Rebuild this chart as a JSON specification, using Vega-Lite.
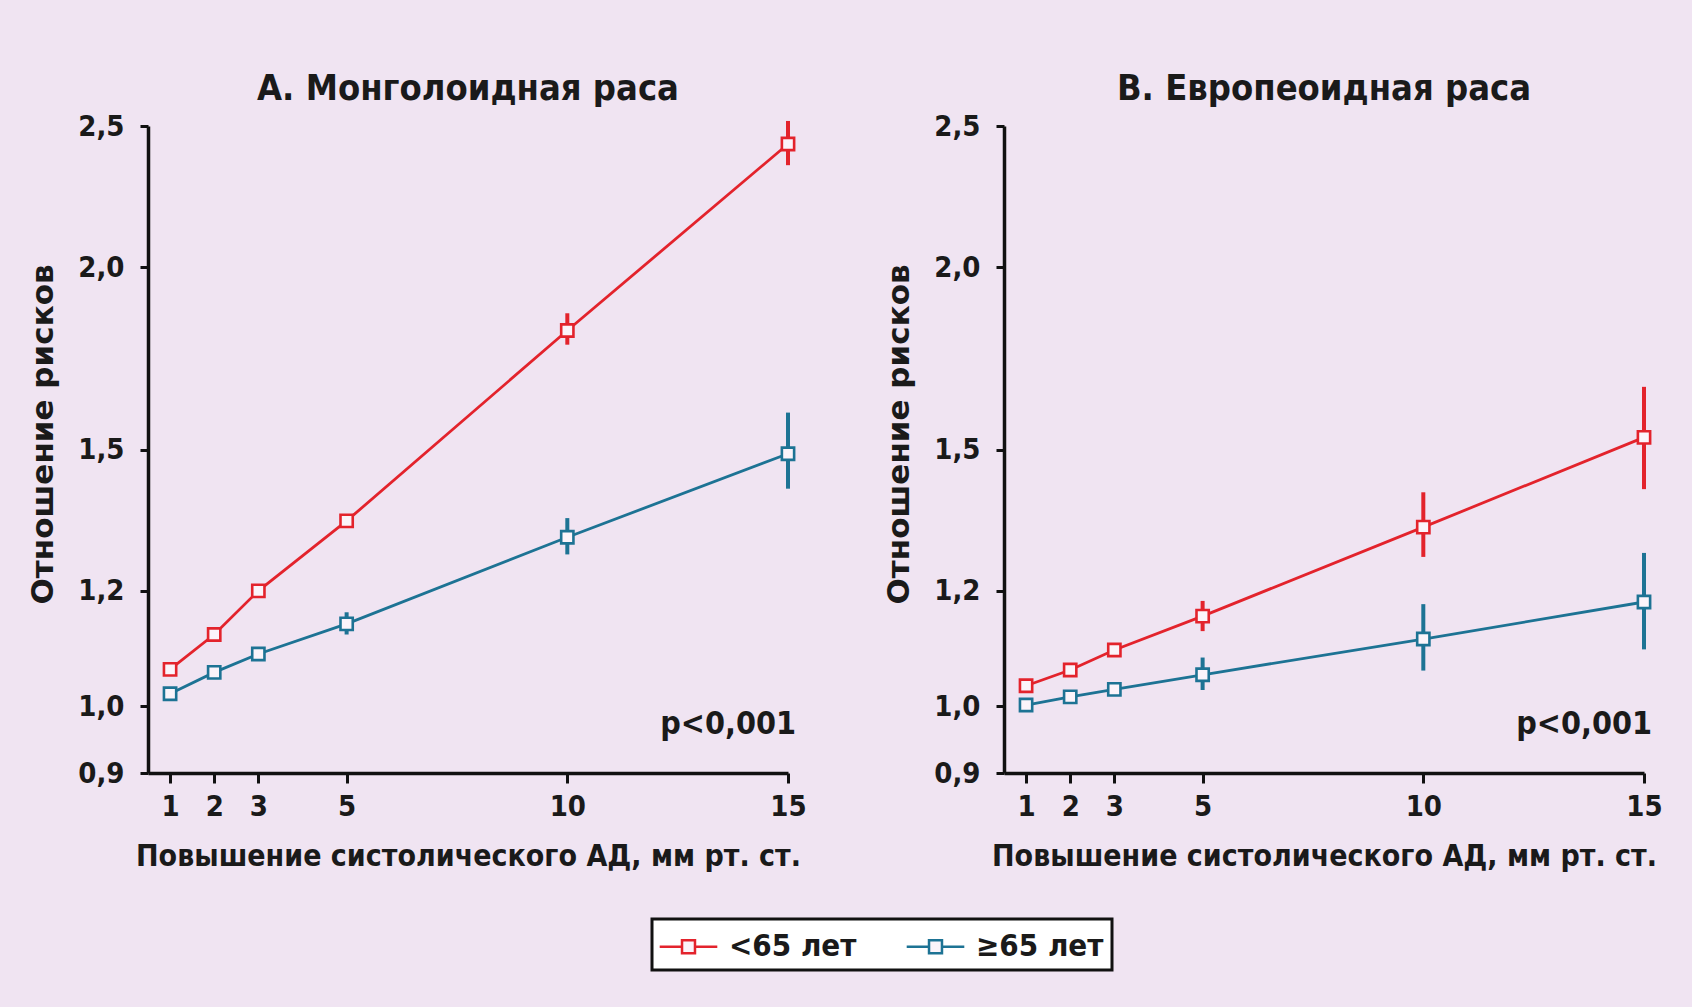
{
  "$schema": "https://vega.github.io/schema/vega-lite/v6.json",
  "background": "#f0e4f2",
  "padding": {"left": 27, "top": 71, "right": 50, "bottom": 36},
  "datasets": {
    "rr": [
      {"panel": "A", "age": "<65 лет", "x": 1, "rr": 1.06, "lo": 1.052, "hi": 1.068},
      {"panel": "A", "age": "<65 лет", "x": 2, "rr": 1.12, "lo": 1.111, "hi": 1.129},
      {"panel": "A", "age": "<65 лет", "x": 3, "rr": 1.2, "lo": 1.19, "hi": 1.21},
      {"panel": "A", "age": "<65 лет", "x": 5, "rr": 1.34, "lo": 1.328, "hi": 1.353},
      {"panel": "A", "age": "<65 лет", "x": 10, "rr": 1.81, "lo": 1.77, "hi": 1.86},
      {"panel": "A", "age": "<65 лет", "x": 15, "rr": 2.43, "lo": 2.35, "hi": 2.52},
      {"panel": "A", "age": "≥65 лет", "x": 1, "rr": 1.02, "lo": 1.014, "hi": 1.026},
      {"panel": "A", "age": "≥65 лет", "x": 2, "rr": 1.055, "lo": 1.048, "hi": 1.062},
      {"panel": "A", "age": "≥65 лет", "x": 3, "rr": 1.086, "lo": 1.078, "hi": 1.094},
      {"panel": "A", "age": "≥65 лет", "x": 5, "rr": 1.139, "lo": 1.12, "hi": 1.16},
      {"panel": "A", "age": "≥65 лет", "x": 10, "rr": 1.306, "lo": 1.271, "hi": 1.346},
      {"panel": "A", "age": "≥65 лет", "x": 15, "rr": 1.49, "lo": 1.41, "hi": 1.59},
      {"panel": "B", "age": "<65 лет", "x": 1, "rr": 1.033, "lo": 1.027, "hi": 1.039},
      {"panel": "B", "age": "<65 лет", "x": 2, "rr": 1.059, "lo": 1.052, "hi": 1.066},
      {"panel": "B", "age": "<65 лет", "x": 3, "rr": 1.093, "lo": 1.084, "hi": 1.102},
      {"panel": "B", "age": "<65 лет", "x": 5, "rr": 1.153, "lo": 1.126, "hi": 1.181},
      {"panel": "B", "age": "<65 лет", "x": 10, "rr": 1.327, "lo": 1.266, "hi": 1.402},
      {"panel": "B", "age": "<65 лет", "x": 15, "rr": 1.529, "lo": 1.409, "hi": 1.656},
      {"panel": "B", "age": "≥65 лет", "x": 1, "rr": 1.002, "lo": 0.996, "hi": 1.008},
      {"panel": "B", "age": "≥65 лет", "x": 2, "rr": 1.015, "lo": 1.009, "hi": 1.021},
      {"panel": "B", "age": "≥65 лет", "x": 3, "rr": 1.027, "lo": 1.019, "hi": 1.035},
      {"panel": "B", "age": "≥65 лет", "x": 5, "rr": 1.051, "lo": 1.026, "hi": 1.08},
      {"panel": "B", "age": "≥65 лет", "x": 10, "rr": 1.112, "lo": 1.058, "hi": 1.175},
      {"panel": "B", "age": "≥65 лет", "x": 15, "rr": 1.179, "lo": 1.094, "hi": 1.274}
    ],
    "notes": [
      {"panel": "A", "x": 15, "y": 0.972, "label": "p<0,001"},
      {"panel": "B", "x": 15, "y": 0.972, "label": "p<0,001"}
    ]
  },
  "config": {
    "font": "DejaVu Sans Condensed",
    "view": {"stroke": null},
    "title": {"font": "DejaVu Sans Condensed", "fontSize": 36, "fontWeight": "bold", "color": "#1a1a1a", "offset": 4, "anchor": "middle"},
    "axis": {
      "domainColor": "#111111", "domainWidth": 3.5, "tickColor": "#111111", "tickWidth": 3,
      "labelFont": "DejaVu Sans Condensed", "labelFontWeight": "bold", "labelColor": "#1a1a1a", "labelFontSize": 29,
      "titleFont": "DejaVu Sans Condensed", "titleFontWeight": "bold", "titleColor": "#1a1a1a", "titleFontSize": 30,
      "grid": false
    },
    "legend": {
      "orient": "none", "legendX": 504, "legendY": 793, "direction": "horizontal",
      "strokeColor": "#111111", "strokeWidth": 3, "fillColor": "#ffffff", "padding": 8,
      "title": null, "labelFont": "DejaVu Sans Condensed", "labelFontWeight": "bold", "labelFontSize": 31, "labelColor": "#1a1a1a",
      "symbolType": "M-1.6,0H-0.36M0.36,0H1.6M-0.36,-0.36H0.36V0.36H-0.36Z", "symbolSize": 1296, "symbolOffset": 9,
      "symbolStrokeWidth": 2.5, "symbolFillColor": "#ffffff", "labelOffset": 21, "columnPadding": 44
    }
  },
  "spacing": 76,
  "hconcat": [
    {
      "title": "А. Монголоидная раса",
      "width": 640, "height": 647,
      "layer": [
        {
          "data": {"name": "rr"},
          "transform": [{"filter": "datum.panel === 'A'"}],
          "mark": {"type": "rule", "strokeWidth": 4},
          "encoding": {
            "x": {"field": "x", "type": "quantitative", "scale": {"domain": [0.5, 15], "nice": false, "zero": false},
                  "axis": {"values": [1, 2, 3, 5, 10, 15], "title": "Повышение систолического АД, мм рт. ст.", "tickSize": 10, "labelPadding": 9, "titlePadding": 20, "labelFlush": false}},
            "y": {"field": "lo", "type": "quantitative", "scale": {"type": "log", "domain": [0.9, 2.5], "nice": false, "zero": false},
                  "axis": {"values": [0.9, 1.0, 1.2, 1.5, 2.0, 2.5], "title": "Отношение рисков", "titleFont": "DejaVu Sans", "titleFontSize": 31, "tickSize": 8, "labelPadding": 16, "titlePadding": 18, "titleY": 308, "labelExpr": "replace(format(datum.value, '.1f'), '.', ',')"}},
            "y2": {"field": "hi"},
            "stroke": {"field": "age", "type": "nominal", "scale": {"domain": ["<65 лет", "≥65 лет"], "range": ["#e3232c", "#1d7394"]}, "legend": {}}
          }
        },
        {
          "data": {"name": "rr"},
          "transform": [{"filter": "datum.panel === 'A'"}],
          "mark": {"type": "line", "strokeWidth": 2.8},
          "encoding": {
            "x": {"field": "x", "type": "quantitative"},
            "y": {"field": "rr", "type": "quantitative"},
            "stroke": {"field": "age", "type": "nominal"}
          }
        },
        {
          "data": {"name": "rr"},
          "transform": [{"filter": "datum.panel === 'A'"}],
          "mark": {"type": "point", "shape": "square", "size": 150, "filled": false, "fill": "#fbf4fa", "fillOpacity": 1, "strokeWidth": 2.6, "opacity": 1},
          "encoding": {
            "x": {"field": "x", "type": "quantitative"},
            "y": {"field": "rr", "type": "quantitative"},
            "stroke": {"field": "age", "type": "nominal"}
          }
        },
        {
          "data": {"name": "notes"},
          "transform": [{"filter": "datum.panel === 'A'"}],
          "mark": {"type": "text", "align": "right", "baseline": "middle", "dx": 8, "fontSize": 32, "fontWeight": "bold", "color": "#1a1a1a", "font": "DejaVu Sans Condensed"},
          "encoding": {
            "x": {"field": "x", "type": "quantitative"},
            "y": {"field": "y", "type": "quantitative"},
            "text": {"field": "label"}
          }
        }
      ]
    },
    {
      "title": "В. Европеоидная раса",
      "width": 640, "height": 647,
      "layer": [
        {
          "data": {"name": "rr"},
          "transform": [{"filter": "datum.panel === 'B'"}],
          "mark": {"type": "rule", "strokeWidth": 4},
          "encoding": {
            "x": {"field": "x", "type": "quantitative", "scale": {"domain": [0.5, 15], "nice": false, "zero": false},
                  "axis": {"values": [1, 2, 3, 5, 10, 15], "title": "Повышение систолического АД, мм рт. ст.", "tickSize": 10, "labelPadding": 9, "titlePadding": 20, "labelFlush": false}},
            "y": {"field": "lo", "type": "quantitative", "scale": {"type": "log", "domain": [0.9, 2.5], "nice": false, "zero": false},
                  "axis": {"values": [0.9, 1.0, 1.2, 1.5, 2.0, 2.5], "title": "Отношение рисков", "titleFont": "DejaVu Sans", "titleFontSize": 31, "tickSize": 8, "labelPadding": 16, "titlePadding": 18, "titleY": 308, "labelExpr": "replace(format(datum.value, '.1f'), '.', ',')"}},
            "y2": {"field": "hi"},
            "stroke": {"field": "age", "type": "nominal"}
          }
        },
        {
          "data": {"name": "rr"},
          "transform": [{"filter": "datum.panel === 'B'"}],
          "mark": {"type": "line", "strokeWidth": 2.8},
          "encoding": {
            "x": {"field": "x", "type": "quantitative"},
            "y": {"field": "rr", "type": "quantitative"},
            "stroke": {"field": "age", "type": "nominal"}
          }
        },
        {
          "data": {"name": "rr"},
          "transform": [{"filter": "datum.panel === 'B'"}],
          "mark": {"type": "point", "shape": "square", "size": 150, "filled": false, "fill": "#fbf4fa", "fillOpacity": 1, "strokeWidth": 2.6, "opacity": 1},
          "encoding": {
            "x": {"field": "x", "type": "quantitative"},
            "y": {"field": "rr", "type": "quantitative"},
            "stroke": {"field": "age", "type": "nominal"}
          }
        },
        {
          "data": {"name": "notes"},
          "transform": [{"filter": "datum.panel === 'B'"}],
          "mark": {"type": "text", "align": "right", "baseline": "middle", "dx": 8, "fontSize": 32, "fontWeight": "bold", "color": "#1a1a1a", "font": "DejaVu Sans Condensed"},
          "encoding": {
            "x": {"field": "x", "type": "quantitative"},
            "y": {"field": "y", "type": "quantitative"},
            "text": {"field": "label"}
          }
        }
      ]
    }
  ]
}
